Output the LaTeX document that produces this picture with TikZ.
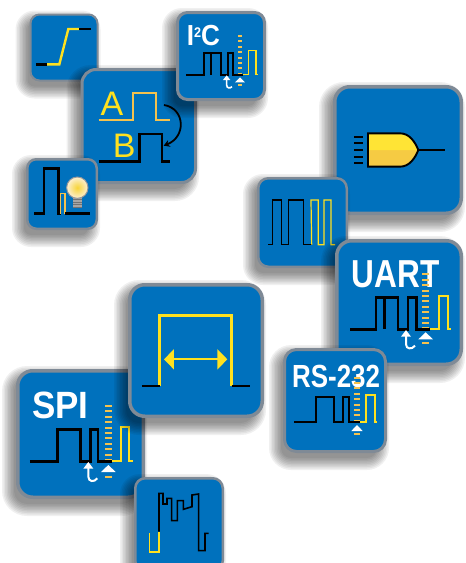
\documentclass[tikz,border=0pt]{standalone}
\usepackage{fontspec}
\usepackage{graphicx}
\setmainfont{Liberation Sans}
\usetikzlibrary{arrows.meta}
\definecolor{tileblue}{HTML}{0071BD}
\definecolor{tileedge}{HTML}{7F8A96}
\definecolor{sigyellow}{HTML}{FFE11F}
\definecolor{sigorange}{HTML}{F4C24F}
\tikzset{
  px/.style={x=0.33333pt,y=-0.33333pt},
  blacksig/.style={draw=black,line width=#1,line join=miter},
  blacksig/.default=2.4pt,
  yelsig/.style={draw=sigyellow,line width=#1,line join=miter},
  yelsig/.default=1.6pt,
  tickbar/.style={draw=sigorange,line width=#1,dash pattern=on 2pt off 3.4pt},
  label/.style={inner sep=0pt,anchor=base west,text=white,font=\bfseries},
  bigletter/.style={inner sep=0pt,anchor=base,text=sigyellow},
}
\newcommand{\tile}[6]{% x0 y0 x1 y1 radius edge
  \foreach \g in {10,8.5,...,-3}{
    \pgfmathsetmacro{\ax}{#1-4-\g}\pgfmathsetmacro{\ay}{#2+7-\g}
    \pgfmathsetmacro{\bx}{#3-8+\g}\pgfmathsetmacro{\by}{#4+7+\g}
    \pgfmathsetmacro{\rr}{max(#5+\g,1)}
    \fill[black,opacity=.058,rounded corners=\rr pt] (\ax,\ay) rectangle (\bx,\by);
  }
  \pgfmathsetmacro{\ax}{#1+#6/2}\pgfmathsetmacro{\ay}{#2+#6/2}
  \pgfmathsetmacro{\bx}{#3-#6/2}\pgfmathsetmacro{\by}{#4-#6/2}
  \filldraw[fill=tileblue,draw=tileedge,line width=#6pt,rounded corners=#5pt] (\ax,\ay) rectangle (\bx,\by);
}
% tip x, tip y, half width, height: white triangle
\newcommand{\whitetri}[4]{\fill[white] (#1,#2) -- ++(#3,#4) -- ++(-2*#3,0) -- cycle;}
\begin{document}
\begin{tikzpicture}[x=1pt,y=-1pt]
\useasboundingbox (0,0) rectangle (466,563);
\clip (0,0) rectangle (466,563);

% ---------- top left group
\tile{29.5}{13.5}{98.5}{81.5}{9}{2}
\begin{scope}[shift={(20,0)},px]
  \draw[yelsig=2.4pt] (80,193) -- (118,193) -- (145,87) -- (178,87);
  \draw[blacksig] (48,193) -- (80,193);
  \draw[blacksig] (178,87) -- (212,87);
\end{scope}

\tile{80.5}{68}{197}{184}{14}{3}
\begin{scope}[shift={(20,0)},px]
  \node[bigletter,font=\fontsize{34}{34}\selectfont] (letterA) at (276,345) {A};
  \node[bigletter,font=\fontsize{34}{34}\selectfont] (letterB) at (313,472) {B};
  \draw[draw=sigorange,line width=2pt] (236,359) -- (340,359) -- (340,278) -- (408,278) -- (408,359) -- (450,359);
  \draw[blacksig] (236,485) -- (358,485) -- (358,402) -- (426,402) -- (426,485) -- (450,485);
  \draw[black,line width=1.8pt,-{Stealth[length=6pt,width=7pt]}] (432,315) .. controls (495,325) and (500,410) .. (431,437);
\end{scope}

\tile{176}{11}{266}{101}{10}{3}
\begin{scope}[shift={(20,0)},px]
  \node[label,font=\bfseries\fontsize{29}{29}\selectfont] (i2c) at (500,135) {\scalebox{.9}[1]{I\raisebox{7.5pt}{\fontsize{14}{14}\selectfont 2}C}};
  \draw[blacksig=1.8pt] (498,224) -- (552,224) -- (552,158) -- (602,158) -- (602,224) -- (624,224) -- (624,158) -- (638,158) -- (638,224) -- (668,224);
  \draw[blacksig=1.8pt] (572,158) -- (572,224);
  \draw[yelsig=1.5pt] (668,224) -- (685,224) -- (685,152) -- (708,152) -- (708,224) -- (714,224);
  \draw[tickbar=4.7pt] (660,105) -- (660,222);
  \draw[tickbar=4.7pt] (660,252) -- (660,258);
  \whitetri{660}{232}{15}{15}
  \whitetri{620}{226}{11}{14}
  \draw[white,line width=1.6pt] (620,238) -- (620,255) .. controls (620,265) and (630,266) .. (636,260);
\end{scope}

\tile{26}{158}{98}{230}{9}{2.5}
\begin{scope}[shift={(20,0)},px]
  \draw[blacksig] (42,640) -- (72,640) -- (72,505) -- (115,505) -- (115,640) -- (122,640);
  \draw[draw=sigorange,line width=1.5pt] (122,642) -- (122,581) -- (135,581) -- (135,642);
  \draw[blacksig] (135,640) -- (210,640);
  \fill[black!35] (159,590) rectangle (187,624);
  \foreach \yy in {598,606,614,622}{\draw[black!55,line width=.7pt] (160,\yy) -- (186,\yy);}
  \shade[inner color=sigorange!70!yellow,outer color=sigorange!25!white] (172,563) circle (32);
  \draw[black!40,line width=1pt] (172,563) circle (32);
\end{scope}

% ---------- right group
\tile{333}{85}{463}{215}{15}{3.5}
\begin{scope}[shift={(250,80)},px]
  \fill[sigorange!85!yellow] (354,160) -- (450,160) .. controls (478,160) and (495,185) .. (505,210) .. controls (495,235) and (478,260) .. (450,260) -- (354,260) -- cycle;
  \fill[sigyellow!90!white] (354,160) -- (450,160) .. controls (478,160) and (495,185) .. (505,210) -- (354,210) -- cycle;
  \draw[black,line width=1.9pt] (354,160) -- (450,160) .. controls (478,160) and (495,185) .. (505,210) .. controls (495,235) and (478,260) .. (450,260) -- (354,260) -- cycle;
  \draw[black,line width=1.9pt] (505,210) -- (585,210);
  \foreach \yy in {170,190,210,230,250}{\draw[black,line width=1.9pt] (312,\yy) -- (340,\yy);}
\end{scope}

\tile{257}{177}{348}{268}{10}{2.5}
\begin{scope}[shift={(250,80)},px]
  \draw[blacksig=1.5pt] (55,494) -- (68,494) -- (68,360) -- (95,360) -- (95,494) -- (115,494) -- (115,360) -- (160,360) -- (160,494) -- (185,494);
  \draw[yelsig=1.2pt] (185,494) -- (183,360) -- (205,360) -- (205,494) -- (222,494) -- (222,360) -- (243,360) -- (243,494) -- (255,494);
\end{scope}

\tile{335}{239}{463}{366}{15}{3.5}
\begin{scope}[shift={(270,235)},px]
  \node[label,font=\bfseries\fontsize{39}{39}\selectfont] (uart) at (245,158) {\scalebox{.81}[1]{UART}};
  \draw[blacksig=2.5pt] (240,283) -- (318,283) -- (318,187) -- (384,187) -- (384,283) -- (414,283) -- (414,187) -- (440,187) -- (440,283) -- (480,283);
  \draw[blacksig=2.5pt] (343,187) -- (343,283);
  \draw[yelsig=2pt] (480,283) -- (506,283) -- (506,182) -- (535,182) -- (535,283) -- (542,283);
  \draw[tickbar=6.5pt] (467,115) -- (467,280);
  \draw[tickbar=6.5pt] (467,322) -- (467,328);
  \whitetri{467}{292}{22}{21}
  \whitetri{408}{285}{15}{20}
  \draw[white,line width=2pt] (408,300) -- (408,328) .. controls (408,342) and (425,345) .. (435,332);
\end{scope}

\tile{283}{348}{387}{453}{12}{3}
\begin{scope}[shift={(270,235)},px]
  \node[label,font=\bfseries\fontsize{32}{32}\selectfont] (rs) at (66,458) {\scalebox{.81}[1]{RS-232}};
  \draw[blacksig=2.1pt] (72,562) -- (138,562) -- (138,486) -- (192,486) -- (192,562) -- (218,562) -- (218,486) -- (238,486) -- (238,562) -- (270,562);
  \draw[yelsig=1.7pt] (270,562) -- (288,562) -- (288,480) -- (315,480) -- (315,562) -- (322,562);
  \draw[tickbar=5.8pt] (261,425) -- (261,556);
  \draw[tickbar=5.8pt] (261,595) -- (261,601);
  \whitetri{261}{570}{17}{18}
\end{scope}

% ---------- bottom left group
\tile{16}{369}{145}{499}{15}{3.5}
\begin{scope}[shift={(10,280)},px]
  \node[label,font=\bfseries\fontsize{38}{38}\selectfont] (spi) at (66,415) {\scalebox{.92}[1]{SPI}};
  \draw[blacksig=2.5pt] (60,544) -- (142,544) -- (142,448) -- (212,448) -- (212,544) -- (242,544) -- (242,448) -- (264,448) -- (264,544) -- (306,544);
  \draw[yelsig=2pt] (306,544) -- (332,544) -- (332,442) -- (358,442) -- (358,544) -- (370,544);
  \draw[tickbar=6.5pt] (295,375) -- (295,538);
  \draw[tickbar=6.5pt] (295,587) -- (295,593);
  \whitetri{295}{555}{22}{21}
  \whitetri{235}{546}{15}{20}
  \draw[white,line width=2pt] (235,560) -- (235,590) .. controls (235,605) and (252,608) .. (262,595);
\end{scope}

\tile{128}{283}{264}{418}{15}{3.5}
\begin{scope}[shift={(10,280)},px]
  \draw[yelsig=3pt] (450,318) -- (450,105) -- (665,105) -- (665,318);
  \draw[blacksig=2.8pt] (396,318) -- (449,318);
  \draw[blacksig=2.8pt] (666,318) -- (720,318);
  \draw[draw=sigyellow,line width=2pt,{Triangle[length=10pt,width=20pt]}-{Triangle[length=10pt,width=20pt]}] (462,238) -- (652,238);
\end{scope}

\tile{134}{477}{224}{572}{10}{2.5}
\begin{scope}[shift={(10,280)},px]
  \draw[blacksig=1.6pt] (447,755) -- (447,640) -- (459,640) -- (459,672) -- (471,672) -- (471,655) -- (485,655) -- (485,722) -- (502,722) -- (502,662) -- (520,662) -- (520,688) -- (546,680) -- (546,645) -- (566,642) -- (566,812) -- (585,812) -- (585,760) -- (596,760);
  \draw[yelsig=1.5pt] (418,760) -- (418,816) -- (447,816) -- (447,755);
\end{scope}
\end{tikzpicture}
\end{document}
